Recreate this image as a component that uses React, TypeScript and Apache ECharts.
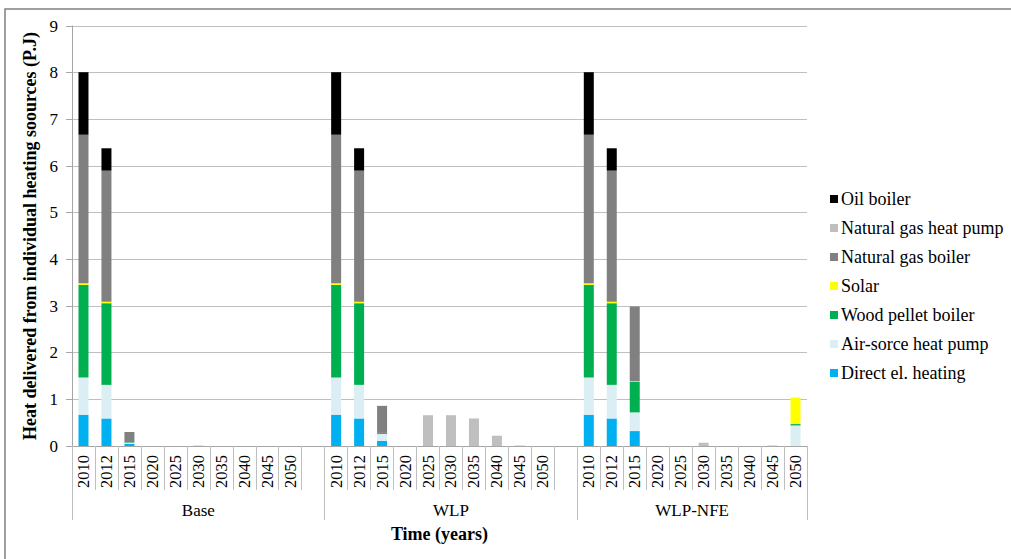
import React, { useEffect, useRef } from "react";
import * as echarts from "echarts";

const years = ["2010", "2012", "2015", "2020", "2025", "2030", "2035", "2040", "2045", "2050"];
const scenarios = ["Base", "WLP", "WLP-NFE"];

// values per scenario (Base, WLP, WLP-NFE), 10 years each, PJ
const directBase = [0.67, 0.59, 0.05, 0, 0, 0, 0, 0, 0, 0];
const directWlp = [0.67, 0.59, 0.11, 0, 0, 0, 0, 0, 0, 0];
const directNfe = [0.67, 0.59, 0.32, 0, 0, 0, 0, 0, 0, 0];

const airBase = [0.8, 0.72, 0.02, 0, 0, 0, 0, 0, 0, 0];
const airWlp = [0.8, 0.72, 0.15, 0, 0, 0, 0, 0, 0, 0];
const airNfe = [0.8, 0.72, 0.4, 0, 0, 0, 0, 0, 0, 0.44];

const woodBase = [1.98, 1.75, 0.01, 0, 0, 0, 0, 0, 0, 0];
const woodWlp = [1.98, 1.75, 0.02, 0, 0, 0, 0, 0, 0, 0];
const woodNfe = [1.98, 1.75, 0.66, 0, 0, 0, 0, 0, 0, 0.03];

const solarBase = [0.04, 0.03, 0, 0, 0, 0, 0, 0, 0, 0];
const solarWlp = [0.04, 0.03, 0, 0, 0, 0, 0, 0, 0, 0];
const solarNfe = [0.04, 0.03, 0.01, 0, 0, 0, 0, 0, 0, 0.57];

const ngBoilerBase = [3.18, 2.81, 0.22, 0, 0, 0, 0, 0, 0, 0];
const ngBoilerWlp = [3.18, 2.81, 0.58, 0, 0, 0, 0, 0, 0, 0];
const ngBoilerNfe = [3.18, 2.81, 1.6, 0, 0, 0, 0, 0, 0, 0];

const ngHeatPumpBase = [0, 0, 0, 0, 0, 0.01, 0, 0, 0, 0];
const ngHeatPumpWlp = [0, 0, 0, 0, 0.66, 0.66, 0.59, 0.22, 0.01, 0];
const ngHeatPumpNfe = [0, 0, 0, 0, 0, 0.07, 0, 0, 0.01, 0];

const oilBase = [1.34, 0.48, 0, 0, 0, 0, 0, 0, 0, 0];
const oilWlp = [1.34, 0.48, 0, 0, 0, 0, 0, 0, 0, 0];
const oilNfe = [1.34, 0.48, 0, 0, 0, 0, 0, 0, 0, 0];

const yTicks = [0, 1, 2, 3, 4, 5, 6, 7, 8, 9];

const FONT = "Liberation Serif";

export default function App() {
  const ref = useRef<HTMLDivElement>(null);

  useEffect(() => {
    if (!ref.current) return;
    const chart = echarts.init(ref.current, undefined, { renderer: "svg" });

    const categories = [...years, "", ...years, "", ...years];
    const join = (a: number[], b: number[], c: number[]) => [...a, null, ...b, null, ...c];

    const seriesDefs = [
      { name: "Direct el. heating", color: "#00B0F0", data: join(directBase, directWlp, directNfe) },
      { name: "Air-sorce heat pump", color: "#DAEEF3", data: join(airBase, airWlp, airNfe) },
      { name: "Wood pellet boiler", color: "#00B050", data: join(woodBase, woodWlp, woodNfe) },
      { name: "Solar", color: "#FFFF00", data: join(solarBase, solarWlp, solarNfe) },
      { name: "Natural gas boiler", color: "#808080", data: join(ngBoilerBase, ngBoilerWlp, ngBoilerNfe) },
      { name: "Natural gas heat pump", color: "#BFBFBF", data: join(ngHeatPumpBase, ngHeatPumpWlp, ngHeatPumpNfe) },
      { name: "Oil boiler", color: "#000000", data: join(oilBase, oilWlp, oilNfe) },
    ];

    const groupCenters: Record<string, string> = { "5.5": scenarios[0], "16.5": scenarios[1], "27": scenarios[2] };

    chart.setOption({
      animation: false,
      backgroundColor: "#ffffff",
      textStyle: { fontFamily: FONT },
      graphic: [
        {
          type: "rect",
          shape: { x: 5, y: 9, width: 1100, height: 700 },
          style: { fill: "none", stroke: "#808080", lineWidth: 1.5 },
          silent: true,
        },
      ],
      grid: { left: 72, top: 26, right: 204, bottom: 113, containLabel: false },
      legend: {
        orient: "vertical",
        left: 830,
        top: 189,
        padding: 0,
        itemWidth: 8,
        itemHeight: 8,
        itemGap: 9,
        icon: "rect",
        data: ["Oil boiler", "Natural gas heat pump", "Natural gas boiler", "Solar", "Wood pellet boiler", "Air-sorce heat pump", "Direct el. heating"],
        textStyle: { fontFamily: FONT, fontSize: 18, color: "#000", lineHeight: 20, padding: [0, 0, 0, -2] },
      },
      xAxis: [
        {
          type: "category",
          data: categories,
          position: "bottom",
          boundaryGap: true,
          axisLine: { show: true, lineStyle: { color: "#A6A6A6", width: 1 } },
          axisTick: { show: true, interval: 0, alignWithLabel: false, length: 44, lineStyle: { color: "#BFBFBF" } },
          axisLabel: { interval: 0, rotate: 90, margin: 9, fontFamily: FONT, fontSize: 16.5, color: "#000" },
          splitLine: { show: false },
        },
        {
          type: "value",
          min: 0,
          max: 32,
          position: "bottom",
          axisLine: { show: false },
          axisTick: { show: true, customValues: [0, 11, 22, 32], length: 74, lineStyle: { color: "#BFBFBF" } },
          axisLabel: {
            customValues: [5.5, 16.5, 27],
            margin: 64,
            verticalAlign: "middle",
            fontFamily: FONT,
            fontSize: 17,
            color: "#000",
            formatter: (v: number) => groupCenters[String(v)] || "",
          },
          splitLine: { show: false },
          name: "Time (years)",
          nameLocation: "middle",
          nameGap: 88,
          nameTextStyle: { fontFamily: FONT, fontSize: 18, fontWeight: "bold", color: "#000", verticalAlign: "middle" },
        },
      ],
      yAxis: {
        type: "value",
        min: 0,
        max: 9,
        interval: 1,
        axisLine: { show: true, lineStyle: { color: "#A6A6A6" } },
        axisTick: { show: true, length: 6, lineStyle: { color: "#A6A6A6" } },
        axisLabel: {
          margin: 14,
          fontFamily: FONT,
          fontSize: 17,
          color: "#000",
          formatter: (v: number) => (yTicks.includes(v) ? String(v) : ""),
        },
        splitLine: { show: true, lineStyle: { color: "#BFBFBF", width: 1 } },
        name: "Heat delivered from individual heating soources (P.J)",
        nameLocation: "middle",
        nameGap: 36,
        nameRotate: 90,
        nameTextStyle: { fontFamily: FONT, fontSize: 18, fontWeight: "bold", color: "#000", verticalAlign: "middle" },
      },
      series: seriesDefs.map((s) => ({
        name: s.name,
        type: "bar",
        stack: "total",
        xAxisIndex: 0,
        barWidth: 10,
        itemStyle: { color: s.color },
        data: s.data,
      })),
    });

    return () => chart.dispose();
  }, []);

  return (
    <div
      ref={ref}
      style={{ position: "absolute", left: 0, top: 0, width: 1011, height: 559 }}
    />
  );
}
